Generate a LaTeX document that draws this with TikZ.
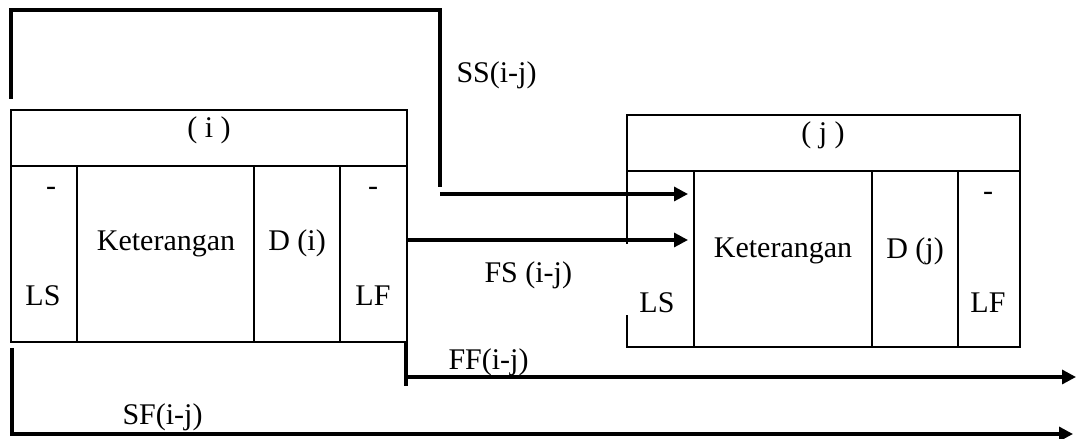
\documentclass[tikz,border=0pt]{standalone}
\usepackage{fontspec}
\setmainfont{Liberation Serif}
\usetikzlibrary{arrows.meta}

\begin{document}
\begin{tikzpicture}[x=0.4pt, y=-0.4pt, every node/.style={font=\fontsize{12}{14}\selectfont, inner sep=0pt, anchor=base},
  cell/.style={line width=0.7pt},
  link/.style={line width=1.3pt},
  linkarrow/.style={link, -{Triangle[length=5.6pt, width=5.6pt]}}]
  \useasboundingbox (0,0) rectangle (1076,439);
  % activity (i)
  \draw[cell] (11,110) rectangle (407,342);
  \draw[cell] (11,166) -- (407,166);
  \foreach \x in {77,254,340} \draw[cell] (\x,166) -- (\x,342);
  \node (hdi) at (209,138) {( i )};
  \node (lsdashi) at (51,196) {-};
  \node (lsi) at (43,306) {LS};
  \node (keti) at (166,251) {Keterangan};
  \node (di) at (297,251) {D (i)};
  \node (lfdashi) at (373,196) {-};
  \node (lfi) at (373,306) {LF};
  % activity (j), left side open where the arrows come in
  \draw[cell] (627,244) -- (627,115) -- (1020,115) -- (1020,347) -- (627,347) -- (627,315);
  \draw[cell] (627,171) -- (1020,171);
  \foreach \x in {694,872,958} \draw[cell] (\x,171) -- (\x,347);
  \node (hdj) at (823,143) {( j )};
  \node (lsj) at (657,313) {LS};
  \node (ketj) at (783,258) {Keterangan};
  \node (dj) at (915,259) {D (j)};
  \node (lfdashj) at (988,201) {-};
  \node (lfj) at (988,313) {LF};
  % connector end points
  \coordinate (ss1) at (11,99);
  \coordinate (ss2) at (11,10);
  \coordinate (ss3) at (440,10);
  \coordinate (ss4) at (440,187);
  \coordinate (ssfrom) at (440,194);
  \coordinate (ssto) at (688,194);
  \coordinate (fsfrom) at (406,240);
  \coordinate (fsto) at (688,240);
  \coordinate (ff1) at (406,342);
  \coordinate (ff2) at (406,386);
  \coordinate (fffrom) at (406,377);
  \coordinate (ffto) at (1076,377);
  \coordinate (sf1) at (12,348);
  \coordinate (sf2) at (12,434);
  \coordinate (sfto) at (1073,434);
  % relations
  \draw[link] (ss1) -- (ss2) -- (ss3) -- (ss4);
  \draw[linkarrow] (ssfrom) -- (ssto);
  \draw[linkarrow] (fsfrom) -- (fsto);
  \draw[link] (ff1) -- (ff2);
  \draw[linkarrow] (fffrom) -- (ffto);
  \draw[linkarrow] (sf1) -- (sf2) -- (sfto);
  \node[anchor=base west] (ss) at (456,83) {SS(i-j)};
  \node[anchor=base west] (fs) at (484,283) {FS (i-j)};
  \node[anchor=base west] (ff) at (448,370) {FF(i-j)};
  \node[anchor=base west] (sf) at (122,425) {SF(i-j)};
\end{tikzpicture}
\end{document}
